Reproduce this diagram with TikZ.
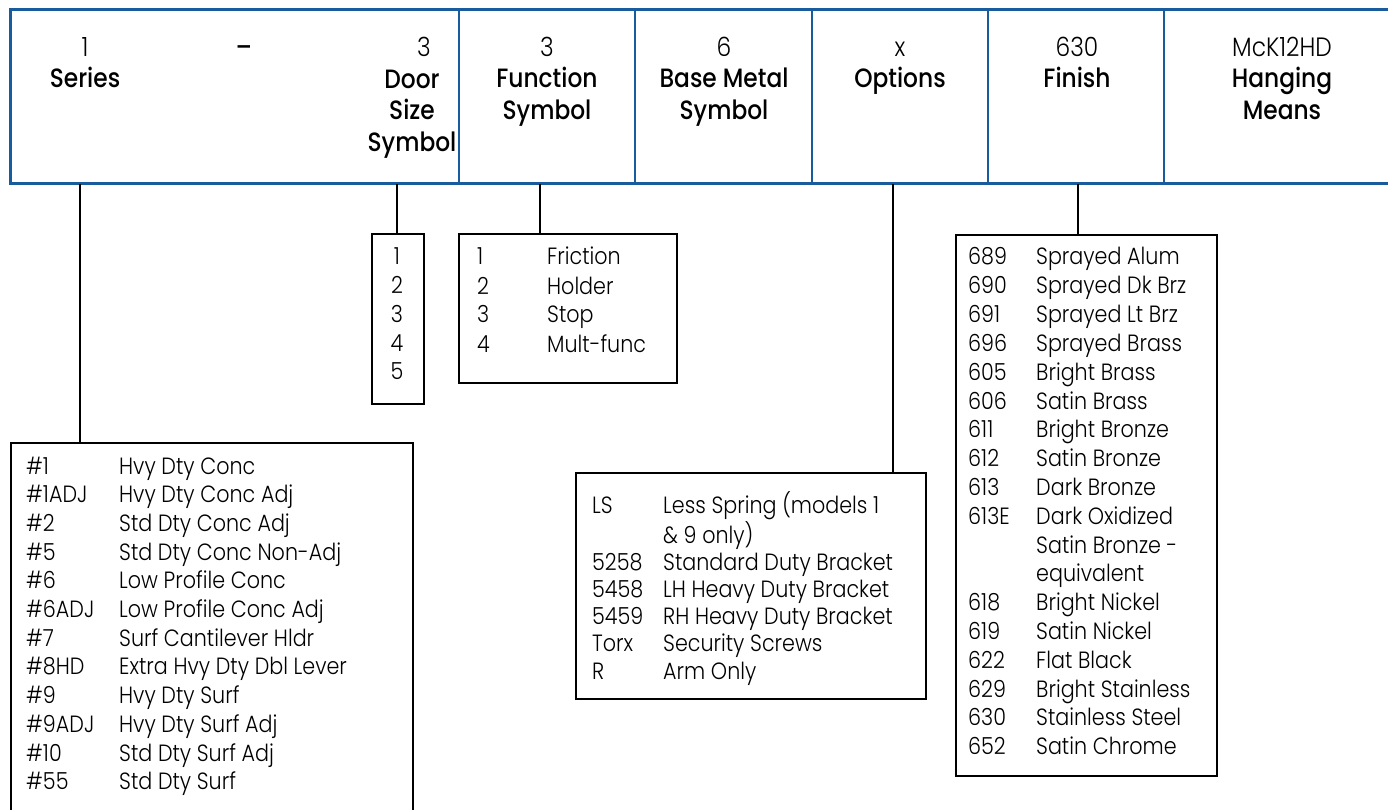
\documentclass[tikz,border=0pt]{standalone}
\usepackage{fontspec}
\setmainfont{Poppins}[UprightFont={* Light},BoldFont={* Medium},FakeStretch=0.88]
\usepackage{array}
\definecolor{hdrblue}{RGB}{24,92,158}
\newcommand{\rowsep}[1]{\fontsize{23.5}{#1}\selectfont}

\tikzset{
  hdrline/.style={draw=hdrblue, line width=3pt},
  cellline/.style={draw=hdrblue, line width=2pt},
  head/.style={align=center, inner sep=0pt, anchor=north, font=\fontsize{26.5}{31.5}\selectfont},
  listbox/.style={draw, line width=2.4pt, anchor=north west, inner sep=0pt},
  listtext/.style={anchor=base west, inner sep=0pt},
  link/.style={line width=2.4pt},
}

\begin{document}
\begin{tikzpicture}[x=1pt,y=-1pt]
	\useasboundingbox (0,0) rectangle (1388,810);
	% header strip
	\draw[hdrline] (1395,10) -- (10,10) -- (10,184) -- (1395,184);
	\foreach \x in {459,635,812,988,1164}
		\draw[cellline] (\x,10) -- (\x,184);
	\node[head] (serieshd) at (85,34) {\strut 1\\\textbf{Series}};
	\node[head] (dash) at (244,34) {\strut\textbf{--}};
	\node[head] (doorno) at (424,34) {\strut 3};
	\node[head] (doorhd) at (412,66) {\strut\textbf{Door}\\\textbf{Size}\\\textbf{Symbol}};
	\node[head] (funchd) at (547,34) {\strut 3\\\textbf{Function}\\\textbf{Symbol}};
	\node[head] (metalhd) at (724,34) {\strut 6\\\textbf{Base Metal}\\\textbf{Symbol}};
	\node[head] (opthd) at (900,34) {\strut x\\\textbf{Options}};
	\node[head] (finhd) at (1077,34) {\strut 630\\\textbf{Finish}};
	\node[head] (hanghd) at (1282,34) {\strut McK12HD\\\textbf{Hanging}\\\textbf{Means}};
	% list boxes
	\node[listbox, minimum width=402pt, minimum height=390pt] (series) at (10,442) {};
	\node[listbox, minimum width=52pt, minimum height=170pt] (door) at (371,233) {};
	\node[listbox, minimum width=218pt, minimum height=149pt] (func) at (458,233) {};
	\node[listbox, minimum width=350pt, minimum height=226pt] (opts) at (575,472) {};
	\node[listbox, minimum width=261pt, minimum height=541pt] (finish) at (955,234) {};
	% list texts
	\node[listtext] (seriestx) at (26,474) {\rowsep{28.7}\begin{tabular}[t]{@{}p{93pt}@{}l@{}}
		\#1 & Hvy Dty Conc\\
		\#1ADJ & Hvy Dty Conc Adj\\
		\#2 & Std Dty Conc Adj\\
		\#5 & Std Dty Conc Non-Adj\\
		\#6 & Low Profile Conc\\
		\#6ADJ & Low Profile Conc Adj\\
		\#7 & Surf Cantilever Hldr\\
		\#8HD & Extra Hvy Dty Dbl Lever\\
		\#9 & Hvy Dty Surf\\
		\#9ADJ & Hvy Dty Surf Adj\\
		\#10 & Std Dty Surf Adj\\
		\#55 & Std Dty Surf
	\end{tabular}};
	\node[listtext, anchor=base] (doortx) at (397,265) {\rowsep{28.75}\begin{tabular}[t]{@{}c@{}}
		1\\2\\3\\4\\5
	\end{tabular}};
	\node[listtext] (functx) at (477,265) {\rowsep{29}\begin{tabular}[t]{@{}p{70pt}@{}l@{}}
		1 & Friction\\
		2 & Holder\\
		3 & Stop\\
		4 & Mult-func
	\end{tabular}};
	\node[listtext] (optstx) at (592,513) {\rowsep{27.2}\begin{tabular}[t]{@{}p{71pt}@{}l@{}}
		LS & Less Spring (models 1\\
		   & \& 9 only)\\
		5258 & Standard Duty Bracket\\
		5458 & LH Heavy Duty Bracket\\
		5459 & RH Heavy Duty Bracket\\
		Torx & Security Screws\\
		R & Arm Only
	\end{tabular}};
	\node[listtext] (fintx) at (968,265) {\rowsep{28.8}\begin{tabular}[t]{@{}p{68pt}@{}l@{}}
		689 & Sprayed Alum\\
		690 & Sprayed Dk Brz\\
		691 & Sprayed Lt Brz\\
		696 & Sprayed Brass\\
		605 & Bright Brass\\
		606 & Satin Brass\\
		611 & Bright Bronze\\
		612 & Satin Bronze\\
		613 & Dark Bronze\\
		613E & Dark Oxidized\\
		     & Satin Bronze -\\
		     & equivalent\\
		618 & Bright Nickel\\
		619 & Satin Nickel\\
		622 & Flat Black\\
		629 & Bright Stainless\\
		630 & Stainless Steel\\
		652 & Satin Chrome
	\end{tabular}};
	% connectors from the header down to the boxes
	\coordinate (tapseries) at (80,184);
	\coordinate (tapdoor) at (397,184);
	\coordinate (tapfunc) at (540,184);
	\coordinate (tapopts) at (893,184);
	\coordinate (tapfin) at (1078,184);
	\draw[link] (tapseries) -- (tapseries |- series.north);
	\draw[link] (tapdoor) -- (tapdoor |- door.north);
	\draw[link] (tapfunc) -- (tapfunc |- func.north);
	\draw[link] (tapopts) -- (tapopts |- opts.north);
	\draw[link] (tapfin) -- (tapfin |- finish.north);
\end{tikzpicture}
\end{document}
